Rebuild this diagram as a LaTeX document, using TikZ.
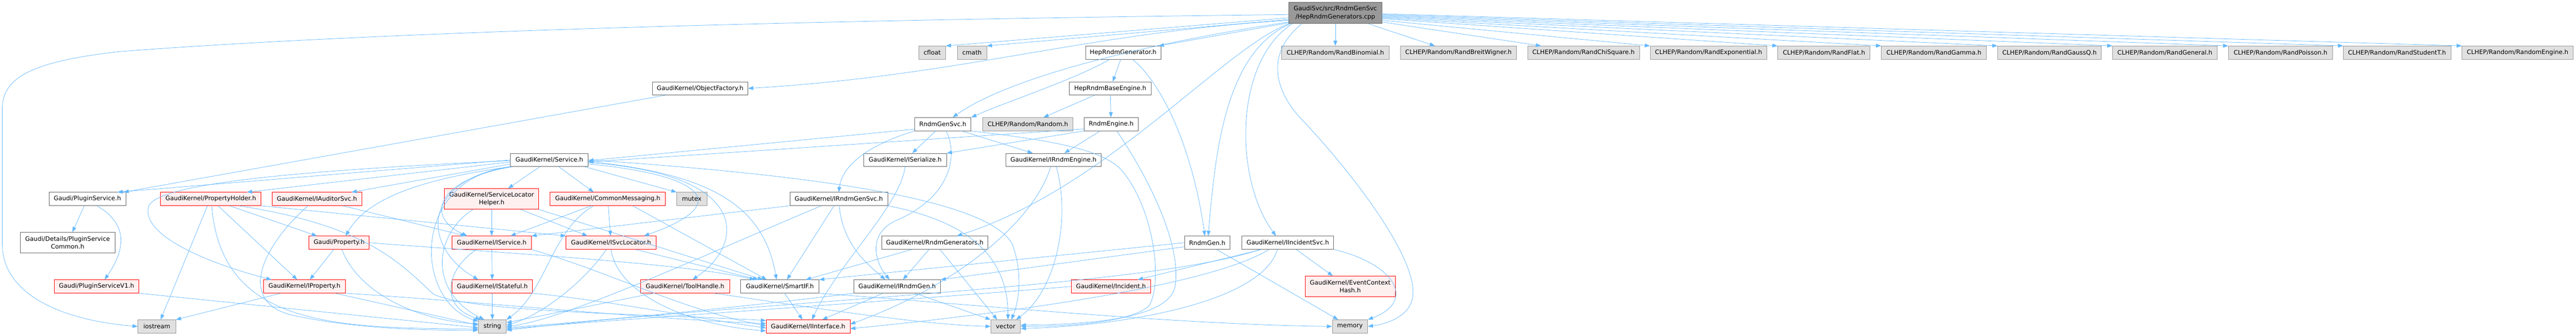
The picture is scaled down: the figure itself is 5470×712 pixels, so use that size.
\documentclass[tikz,border=0pt]{standalone}
\usepackage{fontspec}
\setmainfont{DejaVu Sans}
\usetikzlibrary{arrows.meta}
\definecolor{edgec}{HTML}{63B8FF}
\definecolor{bgray}{HTML}{999999}
\definecolor{dgray}{HTML}{666666}
\definecolor{lgray}{HTML}{E0E0E0}
\definecolor{rfill}{HTML}{FFF0F0}
\definecolor{rborder}{HTML}{FF0000}
\begin{document}
\begin{tikzpicture}[x=1pt,y=-1pt,
  base/.style={rectangle, inner sep=0pt, line width=0.9pt, minimum height=28pt,
    font=\fontsize{13}{17}\selectfont, align=center},
  wn/.style={base, draw=dgray, fill=white},
  rn/.style={base, draw=rborder, fill=rfill},
  gn/.style={base, draw=bgray, fill=lgray},
  tn/.style={base, draw=dgray, fill=bgray},
  e/.style={draw=edgec, line width=0.8pt, -{Triangle[length=11pt,width=8pt]}}]
\fill[white] (0,0) rectangle (5470,712);
\useasboundingbox (0,0) rectangle (5470,712);

% ---------- nodes ----------
\node[tn, minimum width=197pt, minimum height=45pt] (top) at (2835.5,27.5) {GaudiSvc/src/RndmGenSvc\\/HepRndmGenerators.cpp};

\node[gn, minimum width=57pt] (cfloat) at (1979.5,112) {cfloat};
\node[gn, minimum width=62pt] (cmath) at (2064,112) {cmath};
\node[wn, minimum width=160pt] (hrg) at (2385,112) {HepRndmGenerator.h};
\node[gn, minimum width=229pt] (rb) at (2835.5,112) {CLHEP/Random/RandBinomial.h};
\node[gn, minimum width=246pt] (rbw) at (3097,112) {CLHEP/Random/RandBreitWigner.h};
\node[gn, minimum width=237pt] (rcs) at (3362.5,112) {CLHEP/Random/RandChiSquare.h};
\node[gn, minimum width=248pt] (rexp) at (3628,112) {CLHEP/Random/RandExponential.h};
\node[gn, minimum width=196pt] (rflat) at (3873,112) {CLHEP/Random/RandFlat.h};
\node[gn, minimum width=223pt] (rgam) at (4106.5,112) {CLHEP/Random/RandGamma.h};
\node[gn, minimum width=220pt] (rgq) at (4352,112) {CLHEP/Random/RandGaussQ.h};
\node[gn, minimum width=222pt] (rgen) at (4597,112) {CLHEP/Random/RandGeneral.h};
\node[gn, minimum width=221pt] (rpois) at (4842.5,112) {CLHEP/Random/RandPoisson.h};
\node[gn, minimum width=228pt] (rst) at (5090,112) {CLHEP/Random/RandStudentT.h};
\node[gn, minimum width=236pt] (reng) at (5346,112) {CLHEP/Random/RandomEngine.h};

\node[wn, minimum width=203pt] (of) at (1486.5,188) {GaudiKernel/ObjectFactory.h};
\node[wn, minimum width=173pt] (hrbe) at (2357.5,188) {HepRndmBaseEngine.h};

\node[wn, minimum width=120pt] (rgs) at (2002,264) {RndmGenSvc.h};
\node[gn, minimum width=191pt] (random) at (2182.5,264) {CLHEP/Random/Random.h};
\node[wn, minimum width=115pt] (re) at (2359.5,264) {RndmEngine.h};

\node[wn, minimum width=165pt] (svc) at (1166.5,340) {GaudiKernel/Service.h};
\node[wn, minimum width=176pt] (iser) at (1922,340) {GaudiKernel/ISerialize.h};
\node[wn, minimum width=202pt] (ire) at (2237,340) {GaudiKernel/IRndmEngine.h};

\node[wn, minimum width=163pt] (ps) at (185.5,423) {Gaudi/PluginService.h};
\node[rn, minimum width=213pt] (ph) at (447.5,423) {GaudiKernel/PropertyHolder.h};
\node[rn, minimum width=190pt] (ias) at (673,423) {GaudiKernel/IAuditorSvc.h};
\node[rn, minimum width=200pt, minimum height=44pt] (slh) at (1044,423) {GaudiKernel/ServiceLocator\\Helper.h};
\node[rn, minimum width=245pt] (cm) at (1290.5,423) {GaudiKernel/CommonMessaging.h};
\node[gn, minimum width=64pt] (mutex) at (1469,423) {mutex};
\node[wn, minimum width=208pt] (irgs) at (1781,423) {GaudiKernel/IRndmGenSvc.h};

\node[wn, minimum width=201pt, minimum height=44pt] (psc) at (143.5,516) {Gaudi/Details/PluginService\\Common.h};
\node[rn, minimum width=128pt] (prop) at (720,516) {Gaudi/Property.h};
\node[rn, minimum width=168pt] (isvc) at (1044,516) {GaudiKernel/IService.h};
\node[rn, minimum width=191pt] (isl) at (1297.5,516) {GaudiKernel/ISvcLocator.h};
\node[wn, minimum width=226pt] (rgens) at (1985,516) {GaudiKernel/RndmGenerators.h};
\node[wn, minimum width=97pt] (rg) at (2563.5,516) {RndmGen.h};
\node[wn, minimum width=195pt] (iis) at (2734.5,516) {GaudiKernel/IIncidentSvc.h};

\node[rn, minimum width=180pt] (psv1) at (205,609) {Gaudi/PluginServiceV1.h};
\node[rn, minimum width=173pt] (iprop) at (646.5,609) {GaudiKernel/IProperty.h};
\node[rn, minimum width=171pt] (ist) at (1045.5,609) {GaudiKernel/IStateful.h};
\node[rn, minimum width=189pt] (th) at (1454.5,609) {GaudiKernel/ToolHandle.h};
\node[wn, minimum width=166pt] (sif) at (1656,609) {GaudiKernel/SmartIF.h};
\node[wn, minimum width=184pt] (irg) at (1905,609) {GaudiKernel/IRndmGen.h};
\node[rn, minimum width=168pt] (inc) at (2359,609) {GaudiKernel/Incident.h};
\node[rn, minimum width=192pt, minimum height=44pt] (ech) at (2867,609) {GaudiKernel/EventContext\\Hash.h};

\node[gn, minimum width=80pt] (ios) at (333,694) {iostream};
\node[gn, minimum width=59pt] (str) at (1045.5,694) {string};
\node[rn, minimum width=178pt] (iif) at (1716,694) {GaudiKernel/IInterface.h};
\node[gn, minimum width=63pt] (vec) at (2135.5,694) {vector};
\node[gn, minimum width=75pt] (mem) at (2866.5,694) {memory};

% ---------- edges from the top file ----------
\draw[e] (top.182) .. controls (1500,45) and (700,75) .. (250,110) .. controls (80,130) and (5,160) .. (5,230) -- (5,520) .. controls (5,620) and (120,680) .. (ios.west);
\draw[e] (top.186) -- (cfloat.north east);
\draw[e] (top.188) -- (cmath.north east);
\draw[e] (top.189) .. controls (2300,70) and (2050,160) .. (of.east);
\draw[e] (top.192) -- ([xshift=-5pt]hrg.north east);
\draw[e] (top.191) .. controls (2450,90) and (2150,160) .. ([xshift=21pt]rgs.north);
\draw[e] ([xshift=1pt]top.south west) .. controls (2600,100) and (2350,400) .. ([xshift=47pt]rgens.north);
\draw[e] ([xshift=4pt]top.south west) .. controls (2600,110) and (2580,330) .. ([xshift=2pt]rg.north);
\draw[e] ([xshift=8pt]top.south west) .. controls (2620,130) and (2620,380) .. ([xshift=-25pt]iis.north);
\draw[e] ([xshift=28pt]top.south west) .. controls (2690,110) and (2700,190) .. (2770,260) .. controls (2900,400) and (3010,560) .. (3000,630) .. controls (2995,670) and (2950,688) .. (mem.east);
\draw[e] (top) -- (rb);
\draw[e] ([xshift=-29pt]top.south east) -- ([xshift=-50pt]rbw.north);
\draw[e] (top.-11) -- ([xshift=-90pt]rcs.north);
\draw[e] (top.-9) -- (rexp.north west);
\draw[e] (top.-7) -- (rflat.north west);
\draw[e] (top.-6) -- (rgam.north west);
\draw[e] (top.-5) -- (rgq.north west);
\draw[e] (top.-4) -- (rgen.north west);
\draw[e] (top.-3) -- (rpois.north west);
\draw[e] (top.-2) -- (rst.north west);
\draw[e] (top.-1) -- (reng.north west);

% ---------- HepRndmGenerator / BaseEngine / RndmEngine ----------
\draw[e] ([xshift=-29pt]hrg.south) .. controls (2280,170) and (2140,215) .. (rgs.north east);
\draw[e] (hrg) -- (hrbe);
\draw[e] ([xshift=20pt]hrg.south) .. controls (2460,170) and (2530,300) .. ([xshift=-5pt]rg.north);
\draw[e] (hrbe) -- (random);
\draw[e] (hrbe) -- (re);
\draw[e] (re.190) -- (svc.-3);
\draw[e] (re.south west) -- (iser.north east);
\draw[e] (re) -- (ire);
\draw[e] ([xshift=12pt]re.south) .. controls (2440,380) and (2510,520) .. (2495,610) .. controls (2480,680) and (2300,690) .. (vec.5);

% ---------- RndmGenSvc ----------
\draw[e] (rgs.190) -- (svc.-1);
\draw[e] (rgs.south west) .. controls (1870,300) and (1790,340) .. (irgs.north);
\draw[e] (rgs) -- (iser);
\draw[e] ([xshift=40pt]rgs.south) -- ([xshift=-44pt]ire.north);
\draw[e] ([xshift=7pt]rgs.south) .. controls (2035,330) and (2020,420) .. (1900,470) .. controls (1840,500) and (1860,560) .. ([xshift=-16pt]irg.north);
\draw[e] (rgs.south east) .. controls (2250,300) and (2340,320) .. (2380,360) .. controls (2450,440) and (2470,600) .. (2440,650) .. controls (2400,688) and (2250,694) .. (vec.east);

% ---------- ObjectFactory / PluginService ----------
\draw[e] ([xshift=28pt]of.south west) -- ([xshift=-5pt]ps.north east);
\draw[e] (ps) -- (psc);
\draw[e] ([xshift=20pt]ps.south) .. controls (280,480) and (260,540) .. ([xshift=17pt]psv1.north);
\draw[e] (psv1.south east) -- (str.185);

% ---------- Service ----------
\draw[e] (svc.west) -- ([xshift=-18pt]ps.north east);
\draw[e] (svc.183) -- ([xshift=-30pt]ph.north east);
\draw[e] (svc.186) -- ([xshift=-22pt]ias.north east);
\draw[e] (svc.south west) .. controls (900,380) and (780,420) .. ([xshift=14pt]prop.north);
\draw[e] (svc.181) .. controls (700,360) and (330,385) .. (315,440) .. controls (300,510) and (480,570) .. ([xshift=-70pt]iprop.north);
\draw[e] ([xshift=-20pt]svc.south) -- ([xshift=35pt]slh.north);
\draw[e] ([xshift=20pt]svc.south) -- ([xshift=-30pt]cm.north);
\draw[e] ([xshift=-8pt]svc.south east) -- (mutex.north west);
\draw[e] ([xshift=5pt]svc.south west) .. controls (930,380) and (900,460) .. ([xshift=-52pt]isvc.north);
\draw[e] ([xshift=2pt]svc.south west) .. controls (900,380) and (890,520) .. ([xshift=-30pt]ist.north);
\draw[e] (svc.south west) .. controls (870,380) and (880,640) .. (str.160);
\draw[e] (svc.-6) .. controls (1480,370) and (1570,430) .. ([xshift=70pt]isl.north);
\draw[e] (svc.-4) .. controls (1600,370) and (1580,520) .. ([xshift=16pt]th.north);
\draw[e] (svc.-2) .. controls (1500,370) and (1620,430) .. ([xshift=-7pt]sif.north);
\draw[e] (svc.east) .. controls (1700,370) and (2100,420) .. (2150,520) .. controls (2175,590) and (2160,650) .. ([xshift=12pt]vec.north);

% ---------- PropertyHolder / IAuditorSvc / Property / IProperty ----------
\draw[e] ([xshift=-7pt]ph.south) -- ([xshift=8pt]ios.north);
\draw[e] ([xshift=2pt]ph.south) .. controls (470,690) and (700,698) .. (str.190);
\draw[e] (ph) -- (iprop);
\draw[e] ([xshift=40pt]ph.south) -- ([xshift=-47pt]prop.north);
\draw[e] (ph.south east) -- (isl.north west);
\draw[e] ([xshift=60pt]ph.south) .. controls (780,480) and (850,560) .. (920,625) .. controls (1000,665) and (1400,668) .. (iif.172);
\draw[e] ([xshift=55pt]ias.south) -- ([xshift=-55pt]isvc.north);
\draw[e] ([xshift=-19pt]ias.south) .. controls (560,520) and (500,640) .. (620,670) .. controls (760,700) and (900,702) .. (str.195);
\draw[e] (prop) -- (iprop);
\draw[e] ([xshift=6pt]prop.south) .. controls (760,620) and (880,680) .. (str.170);
\draw[e] (prop.east) .. controls (1100,540) and (1450,560) .. ([xshift=-53pt]sif.north);
\draw[e] ([xshift=-50pt]iprop.south) -- (ios.north east);
\draw[e] ([xshift=65pt]iprop.south) -- (str.175);
\draw[e] (iprop.south east) .. controls (1000,640) and (1400,680) .. (iif.176);

% ---------- ServiceLocatorHelper / CommonMessaging ----------
\draw[e] (slh) -- (isvc);
\draw[e] ([xshift=62pt]slh.south) -- ([xshift=-50pt]isl.north);
\draw[e] ([xshift=-40pt]slh.south) .. controls (920,500) and (910,620) .. (str.140);
\draw[e] (slh.south east) -- ([xshift=-36pt]sif.north);
\draw[e] ([xshift=-35pt]cm.south) -- ([xshift=40pt]isvc.north);
\draw[e] (cm) -- (isl);
\draw[e] ([xshift=53pt]cm.south) -- ([xshift=-28pt]sif.north);
\draw[e] ([xshift=-30pt]cm.south) .. controls (1170,490) and (1160,620) .. (str.north east);

% ---------- IService / IStateful / ISvcLocator / ToolHandle / SmartIF ----------
\draw[e] (isvc) -- (ist);
\draw[e] ([xshift=-32pt]isvc.south) .. controls (950,570) and (930,650) .. (str.150);
\draw[e] (isvc.south east) .. controls (1300,580) and (1450,660) .. (iif.179);
\draw[e] (ist) -- (str);
\draw[e] (ist.south east) .. controls (1300,640) and (1500,680) .. (iif.182);
\draw[e] ([xshift=-10pt]isl.south) .. controls (1240,600) and (1150,670) .. (str.5);
\draw[e] ([xshift=52pt]isl.south) -- ([xshift=-46pt]sif.north);
\draw[e] (isl.south) .. controls (1310,620) and (1450,690) .. (iif.186);
\draw[e] ([xshift=-67pt]th.south) -- (str.15);
\draw[e] ([xshift=62pt]th.south) .. controls (1700,650) and (1950,690) .. (vec.west);
\draw[e] ([xshift=10pt]sif.south) -- ([xshift=-12pt]iif.north);
\draw[e] (sif.south east) .. controls (2100,650) and (2500,690) .. (mem.west);

% ---------- IRndmGenSvc / ISerialize / IRndmEngine ----------
\draw[e] (irgs.south west) -- (isvc.north east);
\draw[e] ([xshift=-37pt]irgs.south) .. controls (1500,540) and (1200,680) .. (str.0);
\draw[e] ([xshift=-10pt]irgs.south) -- ([xshift=15pt]sif.north);
\draw[e] ([xshift=1pt]irgs.south) .. controls (1790,520) and (1840,560) .. ([xshift=-25pt]irg.north);
\draw[e] (irgs.south east) .. controls (2050,470) and (2140,540) .. ([xshift=5pt]vec.north);
\draw[e] (iser.south) .. controls (1910,440) and (1780,560) .. ([xshift=8pt]iif.north);
\draw[e] ([xshift=6pt]ire.south) .. controls (2275,470) and (2240,620) .. ([xshift=22pt]vec.north);
\draw[e] ([xshift=-6pt]ire.south) .. controls (2200,460) and (2050,600) .. (iif.3);

% ---------- RndmGenerators / RndmGen / IRndmGen ----------
\draw[e] ([xshift=-49pt]rgens.south) -- ([xshift=55pt]sif.north);
\draw[e] (rgens) -- (irg);
\draw[e] ([xshift=11pt]rgens.south) -- ([xshift=-18pt]vec.north);
\draw[e] (rg.west) -- (sif.north east);
\draw[e] (rg.190) -- (irg.north east);
\draw[e] ([xshift=20pt]rg.south) -- ([xshift=-25pt]mem.north);
\draw[e] ([xshift=-30pt]irg.south) -- ([xshift=30pt]iif.north);
\draw[e] ([xshift=38pt]irg.south) -- (vec.north west);
\draw[e] (irg.south west) .. controls (1600,650) and (1300,680) .. (str.-5);

% ---------- IIncidentSvc / Incident ----------
\draw[e] ([xshift=-56pt]iis.south) -- ([xshift=57pt]inc.north);
\draw[e] ([xshift=18pt]iis.south) -- ([xshift=-37pt]ech.north);
\draw[e] (iis.south east) .. controls (2960,560) and (3010,640) .. (mem.north east);
\draw[e] ([xshift=-22pt]iis.south) .. controls (2680,640) and (2400,692) .. (vec.-8);
\draw[e] ([xshift=-40pt]iis.south) .. controls (2550,620) and (2000,680) .. (iif.-3);
\draw[e] ([xshift=-60pt]iis.south) .. controls (2450,610) and (1600,640) .. (str.-15);
\draw[e] (inc.west) .. controls (1900,640) and (1300,680) .. (str.-10);
\end{tikzpicture}
\end{document}
